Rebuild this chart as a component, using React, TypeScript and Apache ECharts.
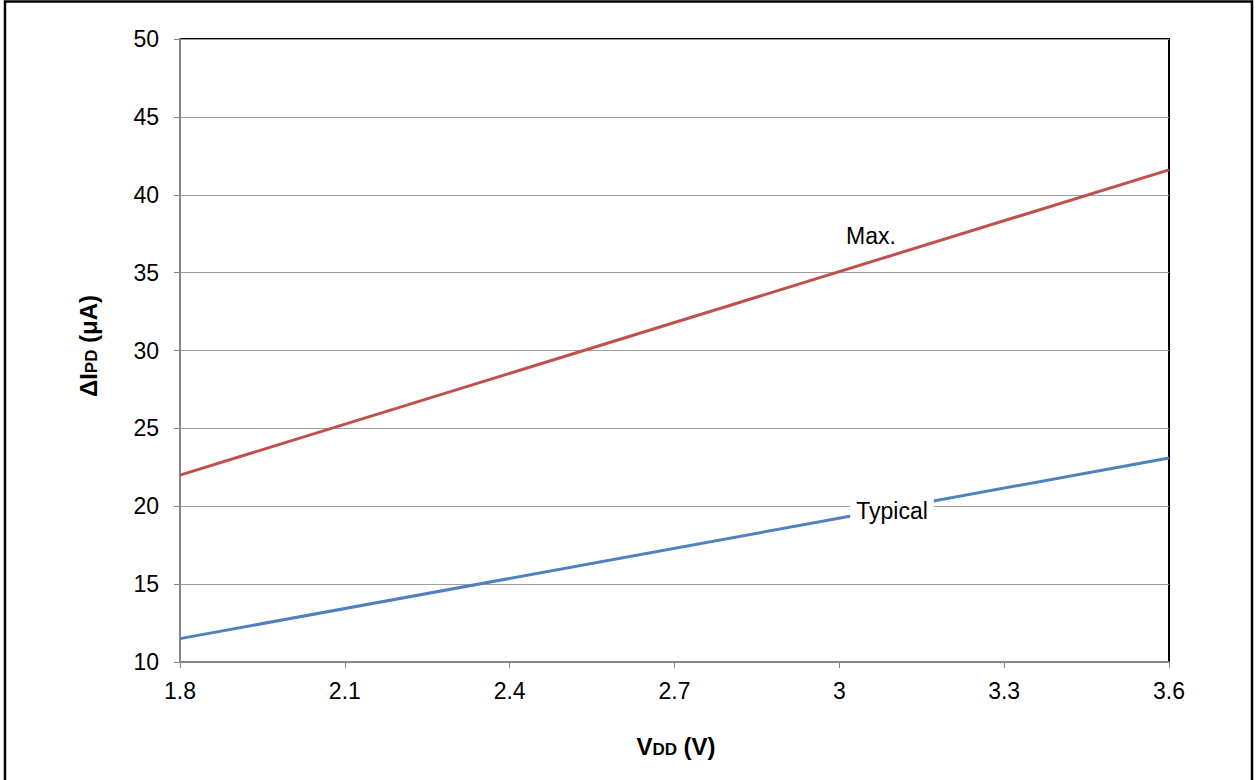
import React, { useEffect, useRef } from "react";
import * as echarts from "echarts";

const vdd = [1.8, 3.6];
const maxValues = [22.0, 41.6];
const typicalValues = [11.5, 23.1];
const xTicks = { min: 1.8, max: 3.6, interval: 0.3 };
const yTicks = { min: 10, max: 50, interval: 5 };

const FONT = "'Liberation Sans', Arial, sans-serif";

export default function App() {
  const ref = useRef<HTMLDivElement>(null);
  useEffect(() => {
    document.body.style.margin = "0";
    const chart = echarts.init(ref.current!, undefined, { renderer: "svg" });
    chart.setOption({
      animation: false,
      backgroundColor: "#ffffff",
      textStyle: { fontFamily: FONT },
      grid: {
        left: 180,
        right: 87,
        top: 39,
        bottom: 118,
        show: true,
        borderColor: "#000000",
        borderWidth: 2,
      },
      xAxis: {
        type: "value",
        min: xTicks.min,
        max: xTicks.max,
        interval: xTicks.interval,
        axisLine: { show: true, lineStyle: { color: "#868686", width: 2 } },
        axisTick: { show: true, length: 6, lineStyle: { color: "#868686", width: 1 } },
        axisLabel: {
          color: "#000",
          fontSize: 23,
          fontFamily: FONT,
          margin: 17,
          formatter: (v: number) => String(Math.round(v * 10) / 10),
        },
        splitLine: { show: false },
      },
      yAxis: {
        type: "value",
        min: yTicks.min,
        max: yTicks.max,
        interval: yTicks.interval,
        axisLine: { show: true, lineStyle: { color: "#868686", width: 2 } },
        axisTick: { show: true, length: 6, lineStyle: { color: "#868686", width: 1 } },
        axisLabel: { color: "#000", fontSize: 23, fontFamily: FONT, margin: 21 },
        splitLine: { show: true, lineStyle: { color: "#a0a0a0", width: 1 } },
      },
      series: [
        {
          name: "Max.",
          type: "line",
          data: vdd.map((x, i) => [x, maxValues[i]]),
          showSymbol: false,
          lineStyle: { color: "#c0504d", width: 3 },
          z: 3,
        },
        {
          name: "Typical",
          type: "line",
          data: vdd.map((x, i) => [x, typicalValues[i]]),
          showSymbol: false,
          lineStyle: { color: "#4f81bd", width: 3 },
          z: 3,
        },
      ],
      graphic: [
        {
          type: "rect",
          z: 0,
          silent: true,
          shape: { x: 5, y: 1.5, width: 1247, height: 800 },
          style: { fill: "none", stroke: "#000", lineWidth: 2.5 },
        },
        {
          type: "text",
          z: 100,
          x: 871,
          y: 236,
          style: {
            text: "Max.",
            fill: "#000",
            font: `23px ${FONT}`,
            align: "center",
            verticalAlign: "middle",
          },
        },
        {
          type: "text",
          z: 100,
          x: 892,
          y: 511,
          style: {
            text: "Typical",
            fill: "#000",
            font: `23px ${FONT}`,
            align: "center",
            verticalAlign: "middle",
            backgroundColor: "#fff",
            padding: [2, 6, 2, 6],
          },
        },
        {
          type: "text",
          z: 100,
          x: 676,
          y: 746,
          style: {
            text: "{a|V}{b|DD}{a| (V)}",
            align: "center",
            verticalAlign: "middle",
            fill: "#000",
            rich: {
              a: { fontSize: 24, fontWeight: "bold", fontFamily: FONT, fill: "#000" },
              b: { fontSize: 17, fontWeight: "bold", fontFamily: FONT, fill: "#000", verticalAlign: "bottom" },
            },
          },
        },
        {
          type: "text",
          z: 100,
          x: 88,
          y: 346,
          rotation: Math.PI / 2,
          style: {
            text: "{a|ΔI}{b|PD}{a| (μA)}",
            align: "center",
            verticalAlign: "middle",
            fill: "#000",
            rich: {
              a: { fontSize: 24, fontWeight: "bold", fontFamily: FONT, fill: "#000" },
              b: { fontSize: 17, fontWeight: "bold", fontFamily: FONT, fill: "#000", verticalAlign: "bottom" },
            },
          },
        },
      ],
    });
    return () => chart.dispose();
  }, []);
  return <div ref={ref} style={{ width: 1256, height: 780, position: "absolute", left: 0, top: 0 }} />;
}
